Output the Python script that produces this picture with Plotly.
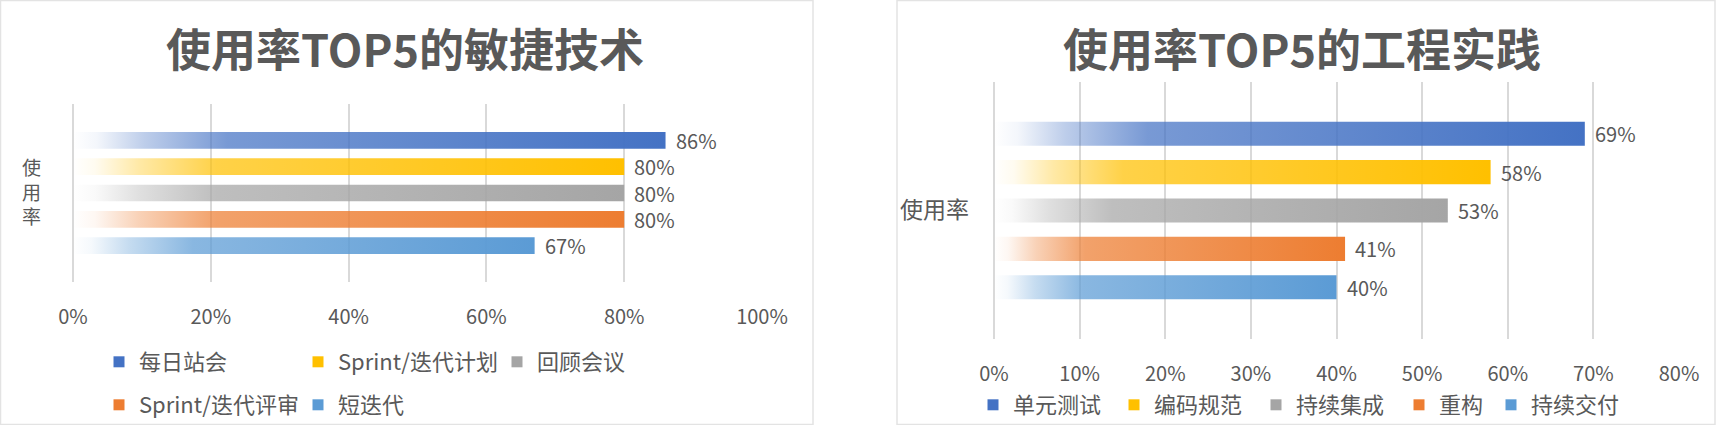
import plotly.graph_objects as go

# ---------------- data ----------------
left_title = "使用率TOP5的敏捷技术"
left_names = ["每日站会", "Sprint/迭代计划", "回顾会议", "Sprint/迭代评审", "短迭代"]
left_values = [0.86, 0.80, 0.80, 0.80, 0.67]

right_title = "使用率TOP5的工程实践"
right_names = ["单元测试", "编码规范", "持续集成", "重构", "持续交付"]
right_values = [0.69, 0.58, 0.53, 0.41, 0.40]

axis_title = "使用率"
series_colors = [(68, 114, 196), (255, 192, 0), (165, 165, 165), (237, 125, 49), (91, 155, 213)]

W, H = 1717, 425
FONT = "Noto Sans CJK SC"
TEXT = "#595959"
GRID = "#d9d9d9"
HALF = 0.315  # half bar thickness in category units


def rgba(c, a):
    return f"rgba({c[0]},{c[1]},{c[2]},{a})"


def grad(c):
    return [[0, rgba(c, 0)], [0.04, rgba(c, 0.06)], [0.12, rgba(c, 0.35)],
            [0.26, rgba(c, 0.72)], [1, rgba(c, 1)]]


fig = go.Figure()


def add_chart(names, values, xa, ya, legends, widths):
    for i, (n, v) in enumerate(zip(names, values)):
        c = series_colors[i]
        fig.add_trace(go.Scatter(
            x=[0, v, v, 0, 0], y=[i - HALF, i - HALF, i + HALF, i + HALF, i - HALF],
            xaxis=xa, yaxis=ya, mode="lines", line=dict(width=0),
            fill="toself", fillgradient=dict(type="horizontal", colorscale=grad(c)),
            hoverinfo="skip", showlegend=False))
        fig.add_trace(go.Scatter(
            x=[None], y=[None], xaxis=xa, yaxis=ya, mode="markers", name=n,
            marker=dict(symbol="square", size=11, color=rgba(c, 1)),
            legend=legends[i], legendwidth=widths[i], showlegend=True))
        fig.add_annotation(
            x=v, y=i, xref=xa, yref=ya, text=f"{round(v * 100)}%", showarrow=False,
            xanchor="left", yanchor="middle", xshift=9, borderpad=0,
            font=dict(family=FONT, size=20, color=TEXT))


add_chart(left_names, left_values, "x", "y",
          ["legend", "legend", "legend", "legend2", "legend2"], [154, 154, 154, 154, 154])
add_chart(right_names, right_values, "x2", "y2", ["legend3"] * 5, [96, 97, 98, 47, 96])

xcommon = dict(showgrid=True, gridcolor=GRID, gridwidth=1.5, zeroline=True, zerolinecolor=GRID,
               zerolinewidth=1.5, showline=False, ticks="", tickformat=".0%",
               tickfont=dict(family=FONT, size=20, color=TEXT), ticklabelstandoff=21, fixedrange=True)
ycommon = dict(showgrid=False, zeroline=False, showline=False, showticklabels=False, fixedrange=True)

legfont = dict(family=FONT, size=22, color=TEXT)
legcommon = dict(orientation="h", xanchor="left", yanchor="middle", font=legfont,
                 bgcolor="rgba(0,0,0,0)", itemclick=False, itemdoubleclick=False,
                 entrywidthmode="pixels")

fig.update_layout(
    width=W, height=H, margin=dict(l=0, r=0, t=0, b=0, autoexpand=False),
    paper_bgcolor="white", plot_bgcolor="rgba(0,0,0,0)",
    font=dict(family=FONT, color=TEXT),
    xaxis=dict(domain=[73 / W, 762 / W], range=[0, 1], dtick=0.2, anchor="y", **xcommon),
    yaxis=dict(domain=[1 - 282 / H, 1 - 104 / H], range=[5.38, -1.38], anchor="x", **ycommon),
    xaxis2=dict(domain=[994 / W, 1679 / W], range=[0, 0.8], dtick=0.1, anchor="y2", **xcommon),
    yaxis2=dict(domain=[1 - 339 / H, 1 - 82 / H], range=[5.35, -1.35], anchor="x2", **ycommon),
    legend=dict(x=99 / W, y=1 - 362 / H, **legcommon),
    legend2=dict(x=99 / W, y=1 - 405 / H, **legcommon),
    legend3=dict(x=973 / W, y=1 - 405 / H, **legcommon),
    showlegend=True,
)

# panel frames
fig.add_shape(type="rect", xref="paper", yref="paper", x0=0.5 / W, x1=813 / W, y0=0.5 / H, y1=1 - 0.5 / H,
              line=dict(color="#e3e3e3", width=1.5), layer="below")
fig.add_shape(type="rect", xref="paper", yref="paper", x0=897 / W, x1=1715 / W, y0=0.5 / H, y1=1 - 0.5 / H,
              line=dict(color="#e3e3e3", width=1.5), layer="below")

# titles
fig.add_annotation(text=f"<b>{left_title}</b>", xref="paper", yref="paper", x=405 / W, y=1 - 48 / H,
                   showarrow=False, font=dict(family=FONT, size=45, color=TEXT), xanchor="center", yanchor="middle")
fig.add_annotation(text=f"<b>{right_title}</b>", xref="paper", yref="paper", x=1302 / W, y=1 - 48 / H,
                   showarrow=False, font=dict(family=FONT, size=45, color=TEXT), xanchor="center", yanchor="middle")

# axis titles
fig.add_annotation(text="<br>".join(axis_title), xref="paper", yref="paper", x=31 / W, y=1 - 191 / H,
                   showarrow=False, font=dict(family=FONT, size=19, color=TEXT), xanchor="center", yanchor="middle")
fig.add_annotation(text=axis_title, xref="paper", yref="paper", x=934 / W, y=1 - 208 / H,
                   showarrow=False, font=dict(family=FONT, size=23, color=TEXT), xanchor="center", yanchor="middle")

fig.write_html("out.html", config={"displayModeBar": False},
               post_script="document.body.style.margin='0';document.body.style.overflow='hidden';")
